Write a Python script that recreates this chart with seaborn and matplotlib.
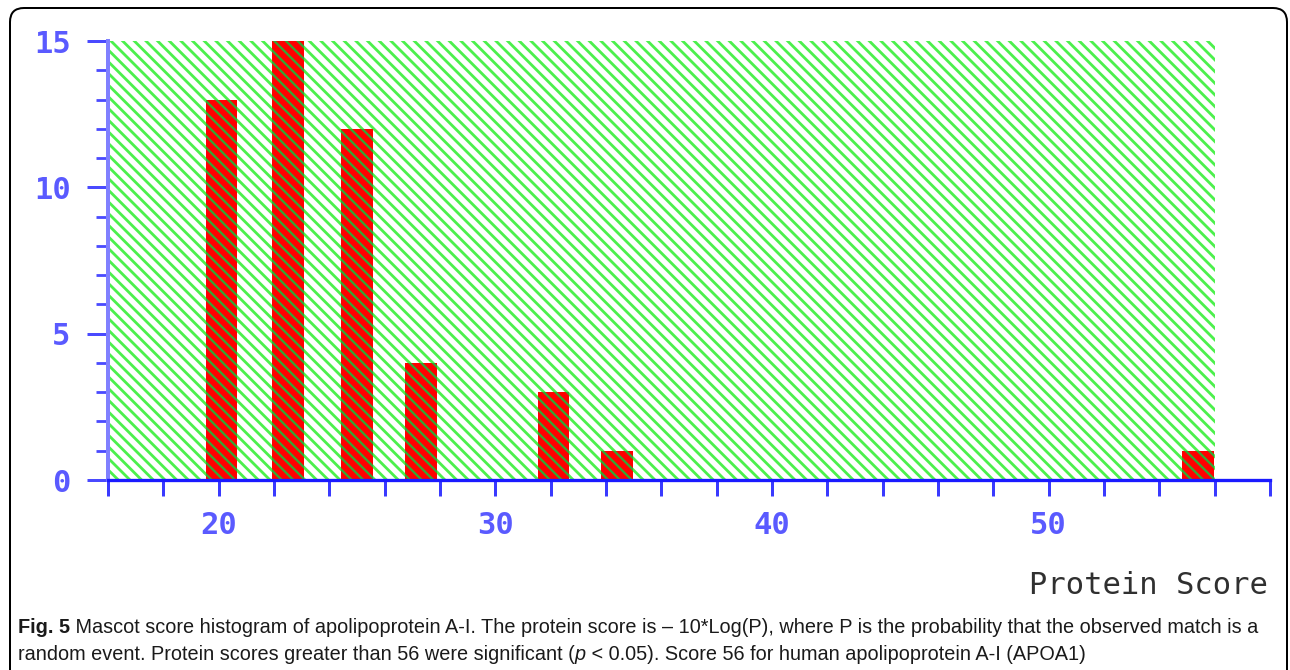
import numpy as np
import pandas as pd
import matplotlib
matplotlib.use("Agg")
import matplotlib.pyplot as plt
import matplotlib.transforms as mtransforms
from matplotlib.patches import FancyBboxPatch
import seaborn as sns

# ---- data ----
score_bins = [20.1, 22.5, 25.0, 27.3, 32.1, 34.4, 55.4]
counts = [13, 15, 12, 4, 3, 1, 1]
significance_threshold = 56
x_range = [16, 58]
y_range = [0, 15]
x_tick_values = list(range(16, 59, 2))
x_label_values = [20, 30, 40, 50]
y_label_values = [0, 5, 10, 15]
y_minor_values = list(range(0, 16))
x_label = "Protein Score"
caption_line1 = [("Fig. 5", "bold", "normal"),
                 (" Mascot score histogram of apolipoprotein A-I. The protein score is \u2013 10*Log(P), where P is the probability that the observed match is a", "normal", "normal")]
caption_line2 = [("random event. Protein scores greater than 56 were significant (", "normal", "normal"),
                 ("p", "normal", "italic"),
                 (" < 0.05). Score 56 for human apolipoprotein A-I (APOA1)", "normal", "normal")]

# ---- styling ----
DPI = 140
W, H = 1290, 670
PX = 72.0 / DPI  # points per pixel
HATCH = chr(92) * 4  # dense back-slash hatch


def px(v):
    return v * PX


sns.set_style("white")
plt.rcParams["hatch.linewidth"] = px(2.8)

fig = plt.figure(figsize=(W / DPI + 1e-6, H / DPI + 1e-6), dpi=DPI)
ax = fig.add_axes([108 / W, 1 - 480 / H, (1270 - 108) / W, (480 - 41) / H])

green = "#4cf04c"
bar_hatch = "#35a535"

df = pd.DataFrame({"score": score_bins, "count": counts})

ax.axvspan(x_range[0], significance_threshold, facecolor="white", edgecolor=green,
           hatch=HATCH, linewidth=0, zorder=1)
plt.rcParams["hatch.linewidth"] = px(2.3)
sns.barplot(data=df, x="score", y="count", native_scale=True, width=0.5,
            color="#ff0000", saturation=1, edgecolor=bar_hatch, linewidth=0,
            hatch=HATCH, ax=ax, zorder=2)

ax.set_xlim(*x_range)
ax.set_ylim(*y_range)
ax.set_xlabel("")
ax.set_ylabel("")

for s in ["top", "right"]:
    ax.spines[s].set_visible(False)
ax.spines["left"].set_color("#8080ff")
ax.spines["left"].set_linewidth(px(4))
ax.spines["bottom"].set_color("#1a1aff")
ax.spines["bottom"].set_linewidth(px(3.3))
ax.spines["left"].set_zorder(3)
ax.spines["bottom"].set_zorder(3)

ax.set_xticks(x_tick_values)
ax.set_xticklabels([str(v) if v in x_label_values else "" for v in x_tick_values])
ax.set_yticks(y_label_values)
ax.set_yticklabels([str(v) for v in y_label_values])
ax.set_yticks(y_minor_values, minor=True)

ax.tick_params(axis="x", which="major", direction="out", length=px(16.5), width=px(3),
               color="#3a3aff", labelcolor="#5a5aff", labelsize=px(30.5), pad=px(14), bottom=True)
ax.tick_params(axis="y", which="major", direction="out", length=px(21), width=px(3),
               color="#4a4aff", labelcolor="#5a5aff", labelsize=px(30.5), pad=px(16.5), left=True)
ax.tick_params(axis="y", which="minor", direction="out", length=px(12.5), width=px(2.8),
               color="#4a4aff", left=True)
for lab in ax.get_xticklabels() + ax.get_yticklabels():
    lab.set_family("DejaVu Sans Mono")
    lab.set_weight("bold")

fig.text(1268 / W, 1 - 585 / H, x_label, ha="right", va="center",
         family="DejaVu Sans Mono", fontsize=px(30.5), color="#303030")

# border
border = FancyBboxPatch((10, -40), 1277, 702, boxstyle="round,pad=0,rounding_size=14",
                        transform=mtransforms.IdentityTransform(), fill=False,
                        edgecolor="black", linewidth=px(2))
fig.add_artist(border)

# caption
fig.canvas.draw()
renderer = fig.canvas.get_renderer()
ident = mtransforms.IdentityTransform()
cap_family = ["Liberation Sans Narrow", "Liberation Sans", "DejaVu Sans"]


def place(parts, x0, y, size):
    x = x0
    made = []
    for txt, weight, style in parts:
        t = fig.text(x, y, txt, transform=ident, fontsize=size, va="baseline", ha="left",
                     family=cap_family, weight=weight, style=style, color="#1a1a1a")
        bb = t.get_window_extent(renderer)
        x = bb.x1
        made.append(t)
    return made, x - x0


base = px(16.7)
trial, wdt = place(caption_line1, 18, H - 633, base)
for t in trial:
    t.remove()
size = base * (1252 - 18) / wdt
place(caption_line1, 18, H - 633, size)
place(caption_line2, 18, H - 660, size)

fig.savefig("out.png", dpi=DPI)
